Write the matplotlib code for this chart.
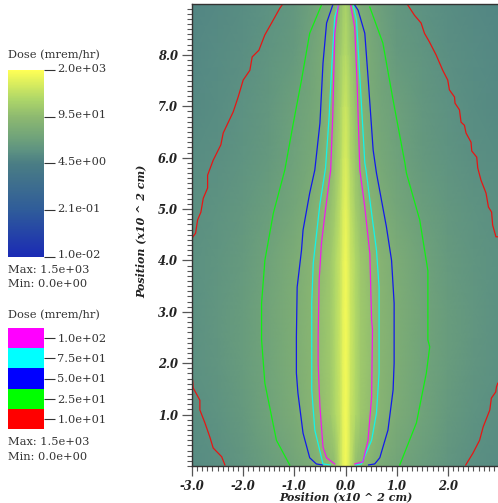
import numpy as np
import matplotlib
matplotlib.use("Agg")
import matplotlib.pyplot as plt
from matplotlib.colors import LinearSegmentedColormap, LogNorm
from matplotlib.cm import ScalarMappable
from matplotlib.ticker import MultipleLocator, NullLocator
from matplotlib.transforms import ScaledTranslation

plt.rcParams['font.family'] = ['DejaVu Serif']

W, H = 498.0, 503.0

###################################
# dose table
###################################
x_half = [0.0, 0.05, 0.1, 0.2, 0.3, 0.5, 0.7, 1.0, 1.5, 2.0, 2.5, 3.0]
y_rows = [0, 1, 2, 3, 4, 5, 6, 7, 8, 9]
dose_rows = [
    [1500, 1000, 500, 110, 85, 60, 40, 27, 18, 12.5, 9.5, 8],
    [1500, 1100, 550, 300, 160, 105, 65, 42, 24, 15, 11, 9],
    [1500, 1100, 600, 320, 170, 110, 70, 45, 26, 17, 12.5, 10],
    [1500, 1100, 600, 320, 170, 110, 70, 45, 27, 17.5, 13, 10],
    [1400, 1000, 560, 300, 165, 100, 65, 43, 24, 16, 12, 10],
    [1100, 800, 450, 200, 120, 68, 45, 30, 19, 13.5, 11, 9.5],
    [800, 600, 300, 150, 82, 45, 32, 23, 15, 11.5, 9.5, 8.5],
    [600, 450, 250, 125, 65, 38, 28, 21, 14, 10.5, 8.5, 7.5],
    [350, 280, 180, 100, 70, 35, 24, 16, 12, 9.5, 8, 7],
    [250, 170, 110, 62, 38, 30, 20, 14, 10.5, 8.5, 7.5, 6.5],
]

# contour lines (x, y)
blue_left_x = [-0.25, -0.37, -0.44, -0.50, -0.60, -0.70, -0.83, -0.86, -0.945, -0.96, -0.96, -0.93, -0.83, -0.70, -0.57, -0.45]
blue_left_y = [8.97, 8.62, 7.84, 6.67, 5.76, 5.31, 4.59, 4.2, 3.48, 2.51, 1.81, 1.42, 0.64, 0.16, 0.04, 0.02]
blue_right_x = [0.18, 0.246, 0.377, 0.44, 0.54, 0.605, 0.80, 0.90, 0.95, 0.95, 0.95, 0.93, 0.83, 0.67, 0.57, 0.45]
blue_right_y = [8.97, 8.87, 8.42, 7.57, 6.15, 5.7, 4.65, 4.0, 3.17, 2.65, 2.0, 1.48, 0.7, 0.16, 0.04, 0.02]
cyan_left_x = [-0.14, -0.21, -0.27, -0.32, -0.39, -0.50, -0.535, -0.63, -0.66, -0.66, -0.66, -0.60, -0.44, -0.3]
cyan_left_y = [8.97, 8.74, 7.76, 6.8, 5.8, 5.1, 4.79, 3.95, 3.17, 2.65, 1.48, 0.7, 0.04, 0.02]
cyan_right_x = [0.15, 0.215, 0.28, 0.377, 0.40, 0.51, 0.605, 0.656, 0.656, 0.656, 0.605, 0.51, 0.31, 0.2]
cyan_right_y = [8.97, 8.68, 7.57, 5.9, 5.76, 4.92, 4.2, 3.48, 2.65, 1.81, 1.03, 0.5, 0.04, 0.02]
magenta_left_x = [-0.14, -0.21, -0.25, -0.29, -0.40, -0.47, -0.515, -0.535, -0.535, -0.50, -0.44, -0.37, -0.21]
magenta_left_y = [8.97, 8.42, 6.8, 5.76, 4.92, 4.34, 3.62, 2.51, 2.0, 1.15, 0.37, 0.16, 0.04]
magenta_right_x = [0.1, 0.18, 0.227, 0.28, 0.377, 0.475, 0.51, 0.527, 0.51, 0.44, 0.34, 0.18]
magenta_right_y = [8.97, 8.54, 7.45, 5.76, 5.04, 4.14, 2.84, 2.65, 1.34, 0.5, 0.08, 0.04]
green_left_x = [-0.47, -0.70, -0.86, -1.02, -1.186, -1.41, -1.576, -1.64, -1.64, -1.576, -1.35, -1.09]
green_left_y = [8.97, 8.42, 7.51, 6.67, 5.76, 4.92, 4.0, 3.17, 2.45, 1.61, 0.5, 0.02]
green_right_x = [0.475, 0.73, 0.93, 1.16, 1.19, 1.45, 1.61, 1.61, 1.646, 1.58, 1.386, 1.06]
green_right_y = [8.93, 8.23, 7.12, 5.9, 5.7, 4.79, 3.8, 2.45, 2.32, 1.81, 0.84, 0.02]
red_ul_x = [-1.24, -1.283, -1.445, -1.576, -1.693, -1.824, -1.869, -2.0, -2.098, -2.195, -2.39, -2.436, -2.586, -2.695, -2.695, -2.78, -2.826, -2.89, -2.93, -2.996]
red_ul_y = [8.97, 8.91, 8.62, 8.39, 8.09, 7.96, 7.70, 7.51, 7.18, 6.89, 6.48, 6.25, 5.95, 5.66, 5.41, 5.21, 4.94, 4.79, 4.53, 4.44]
red_ur_x = [1.217, 1.348, 1.477, 1.543, 1.641, 1.77, 1.90, 1.998, 2.03, 2.13, 2.14, 2.227, 2.258, 2.324, 2.355, 2.453, 2.467, 2.564, 2.584, 2.648, 2.746, 2.793, 2.855, 2.875, 2.94, 2.975]
red_ur_y = [8.97, 8.77, 8.62, 8.42, 8.25, 8.0, 7.70, 7.51, 7.32, 7.18, 7.06, 6.93, 6.69, 6.63, 6.48, 6.30, 6.13, 6.01, 5.80, 5.56, 5.31, 5.04, 4.94, 4.69, 4.46, 4.46]
red_ll_x = [-2.357, -2.42, -2.586, -2.65, -2.748, -2.846, -2.846, -2.977, -2.988]
red_ll_y = [0.02, 0.18, 0.35, 0.56, 0.84, 1.09, 1.28, 1.52, 1.67]
red_lr_x = [2.35, 2.49, 2.62, 2.69, 2.82, 2.85, 2.935, 2.95, 2.975]
red_lr_y = [0.02, 0.25, 0.5, 0.76, 1.09, 1.32, 1.44, 1.54, 1.61]

bar_ticks = [2.0e3, 9.5e1, 4.5e0, 2.1e-1, 1.0e-2]
bar_labels = ['2.0e+03', '9.5e+01', '4.5e+00', '2.1e-01', '1.0e-02']
level_labels = ['1.0e+01', '2.5e+01', '5.0e+01', '7.5e+01', '1.0e+02']
level_colors = ['#ff0000', '#00ff00', '#0000ff', '#00ffff', '#ff00ff']

cmap = LinearSegmentedColormap.from_list('dose', [
    (0.0, '#1a2ab5'), (0.25, '#2f5c9a'), (0.5, '#4a7d84'), (0.566, '#5c9182'),
    (0.64, '#70a37a'), (0.75, '#8db970'), (0.85, '#b0d868'), (1.0, '#ffff55')])
norm = LogNorm(vmin=1.0e-2, vmax=2.0e3)


def make_axes(fig, left, top, right, bottom):
    # pixel box -> figure fractions
    return fig.add_axes([left / W, 1 - bottom / H, (right - left) / W, (bottom - top) / H])


fig = plt.figure(figsize=(4.98, 5.03), dpi=100)

###################################
# main plot
###################################
ax = make_axes(fig, 192, 4, 498, 466)
half = np.array(x_half)
table = np.array(dose_rows, dtype=float)
xs = np.concatenate([-half[:0:-1], half])
full = np.hstack([table[:, :0:-1], table])
ax.pcolormesh(xs, y_rows, np.log10(full), cmap=cmap,
              norm=plt.Normalize(-2, np.log10(2.0e3)), shading='gouraud')

lines = [
    (red_ul_x, red_ul_y, 0), (red_ur_x, red_ur_y, 0), (red_ll_x, red_ll_y, 0), (red_lr_x, red_lr_y, 0),
    (green_left_x, green_left_y, 1), (green_right_x, green_right_y, 1),
    (blue_left_x, blue_left_y, 2), (blue_right_x, blue_right_y, 2),
    (cyan_left_x, cyan_left_y, 3), (cyan_right_x, cyan_right_y, 3),
    (magenta_left_x, magenta_left_y, 4), (magenta_right_x, magenta_right_y, 4),
]
for lx, ly, c in lines:
    ax.plot(lx, ly, color=level_colors[c], lw=0.9, alpha=0.85)

ax.set_xlim(-3.0, 2.98)
ax.set_ylim(0, 8.99)
ax.set_xticks([-3, -2, -1, 0, 1, 2])
ax.set_xticklabels(['-3.0', '-2.0', '-1.0', '0.0', '1.0', '2.0'])
ax.set_yticks([1, 2, 3, 4, 5, 6, 7, 8])
ax.set_yticklabels(['1.0', '2.0', '3.0', '4.0', '5.0', '6.0', '7.0', '8.0'])
ax.xaxis.set_minor_locator(MultipleLocator(0.1))
ax.yaxis.set_minor_locator(MultipleLocator(0.1))
ax.tick_params(which='major', length=7, width=0.9, color='#555555', pad=3, labelsize=8.3)
ax.tick_params(which='minor', length=3.5, width=0.8, color='#555555')
for lab in ax.get_xticklabels() + ax.get_yticklabels():
    lab.set_fontweight('bold')
    lab.set_fontstyle('italic')
    lab.set_color('#222222')
for s in ['top', 'left', 'bottom']:
    ax.spines[s].set_color('#333333')
    ax.spines[s].set_linewidth(1.0)
ax.spines['right'].set_visible(False)

fig.text(346 / W, 1 - 497 / H, 'Position (x10 ^ 2 cm)', ha='center', va='center',
         fontsize=7.9, fontweight='bold', fontstyle='italic', color='#222222')
fig.text(141 / W, 1 - 231 / H, 'Position (x10 ^ 2 cm)', ha='center', va='center', rotation=90,
         fontsize=7.9, fontweight='bold', fontstyle='italic', color='#222222')

# legend labels sit a little above their ticks
label_shift = ScaledTranslation(0, 2.5 / 100.0, fig.dpi_scale_trans)

###################################
# continuous legend
###################################
cax = make_axes(fig, 8, 70, 44, 257)
cb = fig.colorbar(ScalarMappable(norm=norm, cmap=cmap), cax=cax)
cb.set_ticks(bar_ticks)
cb.set_ticklabels(bar_labels)
cb.ax.yaxis.set_minor_locator(NullLocator())
cb.ax.tick_params(length=8, width=0.8, color='#333333', pad=1.5, labelsize=8.2, labelcolor='#333333')
cb.outline.set_visible(False)
for lab in cb.ax.get_yticklabels():
    lab.set_transform(lab.get_transform() + label_shift)

fig.text(8 / W, 1 - 55 / H, 'Dose (mrem/hr)', va='center', fontsize=8.2, color='#333333')
fig.text(8 / W, 1 - 270 / H, 'Max: 1.5e+03', va='center', fontsize=8.2, color='#333333')
fig.text(8 / W, 1 - 284 / H, 'Min: 0.0e+00', va='center', fontsize=8.2, color='#333333')

###################################
# contour level legend
###################################
lax = make_axes(fig, 8, 328, 44, 429)
for i in range(len(level_colors)):
    lax.bar(0, 1, bottom=i, width=1, color=level_colors[i])
lax.set_xlim(-0.5, 0.5)
lax.set_ylim(0, len(level_colors))
lax.set_xticks([])
lax.yaxis.tick_right()
lax.set_yticks(np.arange(len(level_labels)) + 0.5)
lax.set_yticklabels(level_labels)
lax.tick_params(length=8, width=0.8, color='#333333', pad=1.5, labelsize=8.2, labelcolor='#333333')
for s in lax.spines.values():
    s.set_visible(False)

fig.text(8 / W, 1 - 315 / H, 'Dose (mrem/hr)', va='center', fontsize=8.2, color='#333333')
fig.text(8 / W, 1 - 442 / H, 'Max: 1.5e+03', va='center', fontsize=8.2, color='#333333')
fig.text(8 / W, 1 - 457 / H, 'Min: 0.0e+00', va='center', fontsize=8.2, color='#333333')

plt.savefig('out.png', dpi=100)
